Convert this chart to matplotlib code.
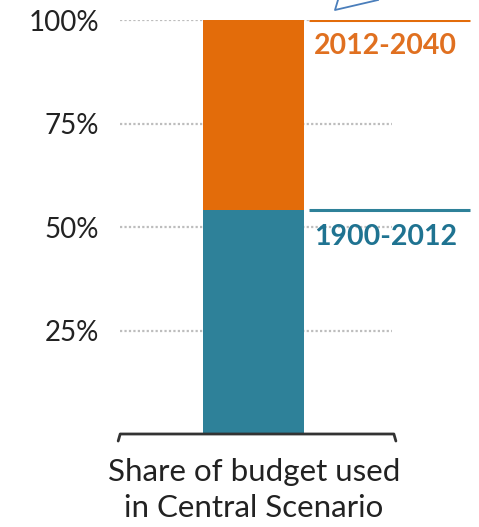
import matplotlib
matplotlib.use("Agg")
import matplotlib.pyplot as plt
from matplotlib.lines import Line2D

plt.rcParams['font.family'] = ['Lato', 'DejaVu Sans']

# data
category = ["Share of budget used\nin Central Scenario"]
periods = ["1900-2012", "2012-2040"]
shares = [54, 46]
colors = ["#2E8199", "#E36C0A"]
text_colors = ["#1F7391", "#E07020"]
yticks = [25, 50, 75, 100]
ytick_labels = ["25%", "50%", "75%", "100%"]

W, H = 479, 527
fig = plt.figure(figsize=(W / 100, H / 100), dpi=100)
ax = fig.add_axes([120 / W, (H - 434) / H, (W - 120) / W, (434 - 20) / H])
ax.set_xlim(-1.322, 2.233)
ax.set_ylim(0, 100)

# dotted gridlines
for t in yticks:
    ax.hlines(t, -1.32, 1.37, colors="#BDBDBD", linestyles=(0, (1, 1)), lw=1.6, zorder=0)

bottom = 0
for share, c, tc, name in zip(shares, colors, text_colors, periods):
    ax.bar(0, share, width=1.0, bottom=bottom, color=c, zorder=2)
    top = bottom + share
    ax.hlines(top, 0.55, 2.14, colors=c, lw=2.2, zorder=3)
    ax.text(0.6, top - 6.3, name, color=tc, fontsize=20.5, fontweight="bold",
            ha="left", va="center")
    bottom = top

# bracket under the bar
ax.add_line(Line2D([-1.34, -1.32, 1.39, 1.41], [-1.7, 0, 0, -1.7], color="#333333",
                   lw=2, clip_on=False, zorder=4, solid_capstyle="round"))

ax.set_yticks(yticks)
ax.set_yticklabels(ytick_labels, fontsize=20, color="#222222")
ax.tick_params(axis="y", length=0, pad=15)
ax.set_xticks([])
for s in ax.spines.values():
    s.set_visible(False)

fig.text(254 / W, 1 - 490 / H, category[0], ha="center", va="center",
         fontsize=22.5, color="#222222", linespacing=1.35)

# callout corner at top
fig.add_artist(Line2D([338 / W, 335 / W, 378 / W], [1.0, 1 - 10 / H, 1.0],
                      color="#4A7EBB", lw=1.3))

fig.savefig("out.png", dpi=100)
